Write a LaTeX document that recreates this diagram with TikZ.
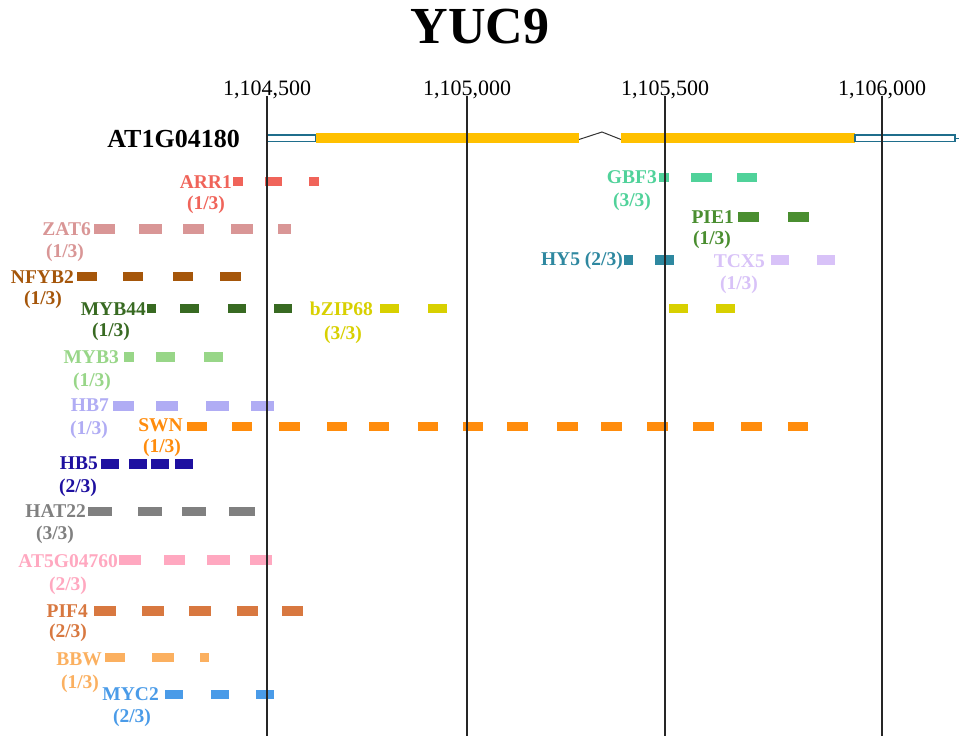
\documentclass[tikz,border=0pt]{standalone}
\usepackage{fontspec}
\setmainfont{Liberation Serif}
\definecolor{cARR}{HTML}{F0645A}
\definecolor{cZAT}{HTML}{D99696}
\definecolor{cNFY}{HTML}{A5560A}
\definecolor{cMYBf}{HTML}{386A22}
\definecolor{cBZIP}{HTML}{D8D000}
\definecolor{cMYBt}{HTML}{98D688}
\definecolor{cHBs}{HTML}{B0ACF4}
\definecolor{cSWN}{HTML}{FF8C0C}
\definecolor{cHBf}{HTML}{1E10A0}
\definecolor{cHAT}{HTML}{808080}
\definecolor{cATF}{HTML}{FFA8C0}
\definecolor{cPIF}{HTML}{D87840}
\definecolor{cBBW}{HTML}{FBB060}
\definecolor{cMYC}{HTML}{4A9BE8}
\definecolor{cGBF}{HTML}{50D29A}
\definecolor{cPIE}{HTML}{4A8E30}
\definecolor{cHYF}{HTML}{2E88A0}
\definecolor{cTCX}{HTML}{D8C2F8}
\definecolor{cUTR}{HTML}{1F6E8C}
\definecolor{cCDS}{HTML}{FFC000}
\newcommand\tfboxes[3]{\foreach \a/\b in {#3} {\fill[#1] (\a,#2-4.75) rectangle (\b,#2+4.75);}}
\tikzset{
  lab/.style={font=\fontsize{19.5}{22}\selectfont\bfseries, inner sep=0pt, text=#1},
  namelab/.style={lab=#1, anchor=east},
  fraclab/.style={lab=#1, anchor=center},
  tick/.style={font=\fontsize{22}{24}\selectfont, inner sep=0pt},
  gridline/.style={draw=black!85, line width=1.1pt}
}
\begin{document}
\begin{tikzpicture}[x=1pt,y=-1pt]
\useasboundingbox (0,0) rectangle (959,736);
\fill[white] (0,0) rectangle (959,736);

\node[font=\fontsize{52}{56}\selectfont\bfseries, inner sep=0pt] (title) at (480,27) {YUC9};

% tick labels
\node[tick] (t1) at (267,90) {1,104,500};
\node[tick] (t2) at (467,90) {1,105,000};
\node[tick] (t3) at (665,90) {1,105,500};
\node[tick] (t4) at (882,90) {1,106,000};

% gene model
\node[font=\fontsize{26}{28}\selectfont\bfseries, inner sep=0pt, anchor=east] (gene) at (240,139) {AT1G04180};
\draw[cUTR, line width=1.9pt] (266.5,135) rectangle (316,141.5);
\fill[cCDS] (316,133) rectangle (579,143);
\draw[black!80, line width=1pt] (579,139.5) -- (602,132) -- (621,139.5);
\fill[cCDS] (621,133) rectangle (855,143);
\draw[cUTR, line width=1.9pt] (855,135) rectangle (955,141.5);
\draw[cUTR, line width=1.2pt] (955,138.5) -- (959,138.5);

% ARR1
\tfboxes{cARR}{181.5}{233/243,265/282,309/319}
\node[namelab=cARR] (arr) at (232,182) {ARR1};
\node[fraclab=cARR] (arrf) at (206,205) {(1/3)};
% ZAT6
\tfboxes{cZAT}{229}{94/115,139/162,183/204,231/253,278/291}
\node[namelab=cZAT] (zat) at (91,229) {ZAT6};
\node[fraclab=cZAT] (zatf) at (65,253) {(1/3)};
% NFYB2
\tfboxes{cNFY}{276.5}{77/97,123/143,173/193,220/241}
\node[namelab=cNFY] (nfy) at (74,277) {NFYB2};
\node[fraclab=cNFY] (nfyf) at (43,300) {(1/3)};
% MYB44
\tfboxes{cMYBf}{308.5}{147/156,180/199,228/246,274/292}
\node[namelab=cMYBf] (myb44) at (146,309) {MYB44};
\node[fraclab=cMYBf] (myb44f) at (111,332) {(1/3)};
% bZIP68
\tfboxes{cBZIP}{308.5}{380/399,428/447,669/688,716/735}
\node[namelab=cBZIP] (bzip) at (373,309) {bZIP68};
\node[fraclab=cBZIP] (bzipf) at (343,335) {(3/3)};
% MYB3
\tfboxes{cMYBt}{357}{124/134,156/175,204/223}
\node[namelab=cMYBt] (myb3) at (119,357) {MYB3};
\node[fraclab=cMYBt] (myb3f) at (92,382) {(1/3)};
% HB7
\tfboxes{cHBs}{406}{113/134,156/178,206/229,251/274}
\node[namelab=cHBs] (hb7) at (109,405) {HB7};
\node[fraclab=cHBs] (hb7f) at (89,430) {(1/3)};
% SWN
\tfboxes{cSWN}{426.5}{187/207,232/252,279/300,327/347,369/389,418/438,463/483,507/528,557/578,601/622,647/668,693/714,741/762,788/808}
\node[namelab=cSWN] (swn) at (183,425) {SWN};
\node[fraclab=cSWN] (swnf) at (162,448) {(1/3)};
% HB5
\tfboxes{cHBf}{464}{101/119,129/147,151/169,175/193}
\node[namelab=cHBf] (hb5) at (98,463) {HB5};
\node[fraclab=cHBf] (hb5f) at (78,488) {(2/3)};
% HAT22
\tfboxes{cHAT}{511.5}{88/112,138/162,182/206,229/255}
\node[namelab=cHAT] (hat) at (86,511) {HAT22};
\node[fraclab=cHAT] (hatf) at (55,535) {(3/3)};
% AT5G04760
\tfboxes{cATF}{560}{119/141,164/185,207/230,250/272}
\node[namelab=cATF] (atf) at (118,561) {AT5G04760};
\node[fraclab=cATF] (atff) at (68,586) {(2/3)};
% PIF4
\tfboxes{cPIF}{611}{94/116,142/164,189/211,237/258,282/303}
\node[namelab=cPIF] (pif) at (88,611) {PIF4};
\node[fraclab=cPIF] (piff) at (68,633) {(2/3)};
% BBW
\tfboxes{cBBW}{657.5}{105/125,152/174,200/209}
\node[namelab=cBBW] (bbw) at (102,659) {BBW};
\node[fraclab=cBBW] (bbwf) at (80,684) {(1/3)};
% MYC2
\tfboxes{cMYC}{694.5}{165/183,211/229,256/274}
\node[namelab=cMYC] (myc) at (159,694) {MYC2};
\node[fraclab=cMYC] (mycf) at (132,718) {(2/3)};
% GBF3
\tfboxes{cGBF}{177.5}{659/669,691/712,737/757}
\node[namelab=cGBF] (gbf) at (657,177) {GBF3};
\node[fraclab=cGBF] (gbff) at (632,202) {(3/3)};
% PIE1
\tfboxes{cPIE}{217}{738/759,788/809}
\node[namelab=cPIE] (pie) at (734,217) {PIE1};
\node[fraclab=cPIE] (pief) at (712,240) {(1/3)};
% HY5
\tfboxes{cHYF}{260}{624/633,655/674}
\node[namelab=cHYF] (hy5) at (623,261) {HY5 (2/3)};
% TCX5
\tfboxes{cTCX}{260}{771/789,817/835}
\node[namelab=cTCX] (tcx) at (765,261) {TCX5};
\node[fraclab=cTCX] (tcxf) at (739,285) {(1/3)};

% grid lines on top
\foreach \gx in {267,467,665,882} {\draw[gridline] (\gx,96) -- (\gx,736);}
\end{tikzpicture}
\end{document}
